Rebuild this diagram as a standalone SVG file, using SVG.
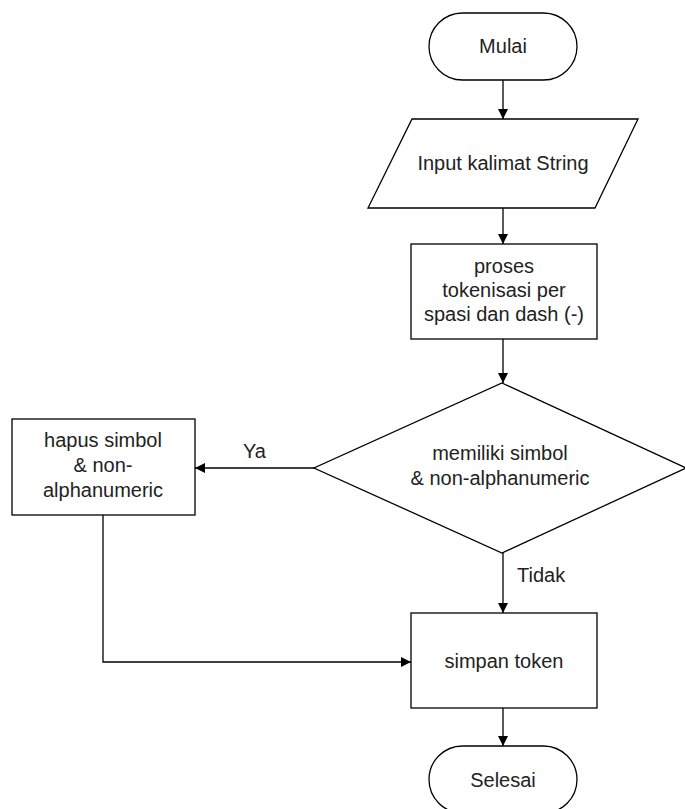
<svg xmlns="http://www.w3.org/2000/svg" width="685" height="809" viewBox="0 0 685 809">
  <style>
    .shape { fill: #ffffff; stroke: #000000; stroke-width: 1.3; }
    .edge { fill: none; stroke: #000000; stroke-width: 1.3; }
    .lbl { font-family: "Liberation Sans", Arial, sans-serif; font-size: 20px; fill: #222222; text-anchor: middle; }
    .elbl { font-family: "Liberation Sans", Arial, sans-serif; font-size: 20px; fill: #222222; }
  </style>
  <defs>
    <marker id="arrow" viewBox="0 0 10 10" refX="10" refY="5" markerWidth="10" markerHeight="10" markerUnits="userSpaceOnUse" orient="auto">
      <path d="M0,0 L10,5 L0,10 Z" fill="#000000"/>
    </marker>
  </defs>
  <rect width="685" height="809" fill="#ffffff"/>

  <g id="connectors">
    <path class="edge" d="M503,80 L503,119" marker-end="url(#arrow)"/>
    <path class="edge" d="M503,208 L503,244" marker-end="url(#arrow)"/>
    <path class="edge" d="M503,339 L503,383" marker-end="url(#arrow)"/>
    <path class="edge" d="M314,468 L195,468" marker-end="url(#arrow)"/>
    <path class="edge" d="M503,553 L503,613" marker-end="url(#arrow)"/>
    <path class="edge" d="M103,515 L103,662 L411,662" marker-end="url(#arrow)"/>
    <path class="edge" d="M503,708 L503,746" marker-end="url(#arrow)"/>
    <text class="elbl" x="243" y="458">Ya</text>
    <text class="elbl" x="517" y="582">Tidak</text>
  </g>

  <g id="mulai">
    <rect class="shape" x="429" y="13" width="148" height="67" rx="33.5" ry="33.5"/>
    <text class="lbl" x="503" y="53">Mulai</text>
  </g>

  <g id="input">
    <polygon class="shape" points="412,119 638,119 595,208 368,208"/>
    <text class="lbl" x="503" y="170">Input kalimat String</text>
  </g>

  <g id="tokenisasi">
    <rect class="shape" x="411" y="244" width="186" height="95"/>
    <text class="lbl" x="504" y="273">proses</text>
    <text class="lbl" x="504" y="297">tokenisasi per</text>
    <text class="lbl" x="504" y="321">spasi dan dash (-)</text>
  </g>

  <g id="cek-simbol">
    <polygon class="shape" points="502,383 686,468 502,553 314,468"/>
    <text class="lbl" x="500" y="460">memiliki simbol</text>
    <text class="lbl" x="500" y="485">&amp; non-alphanumeric</text>
  </g>

  <g id="hapus">
    <rect class="shape" x="12" y="419" width="183" height="96"/>
    <text class="lbl" x="103" y="447">hapus simbol</text>
    <text class="lbl" x="103" y="472">&amp; non-</text>
    <text class="lbl" x="103" y="497">alphanumeric</text>
  </g>

  <g id="simpan">
    <rect class="shape" x="411" y="613" width="186" height="95"/>
    <text class="lbl" x="504" y="668">simpan token</text>
  </g>

  <g id="selesai">
    <rect class="shape" x="429" y="746" width="148" height="67" rx="33.5" ry="33.5"/>
    <text class="lbl" x="503" y="787">Selesai</text>
  </g>
</svg>
